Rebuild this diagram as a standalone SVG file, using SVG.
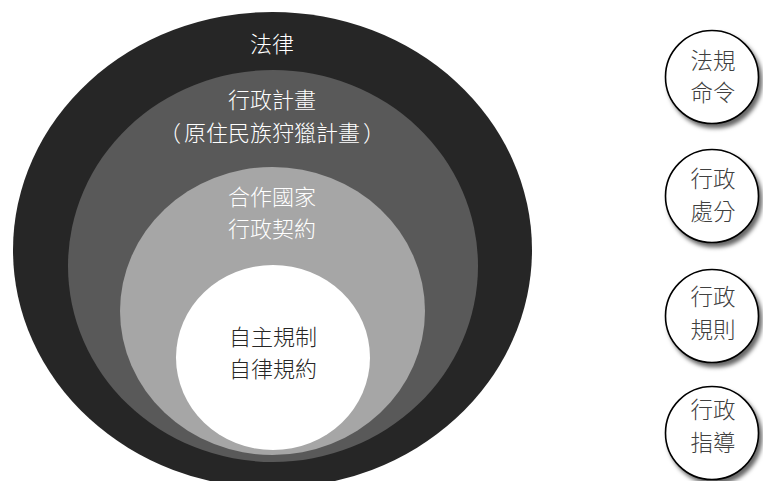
<svg xmlns="http://www.w3.org/2000/svg" width="763" height="481" viewBox="0 0 763 481">
  <style>
    .t { font-family: "Noto Sans CJK TC", "Noto Sans CJK SC", sans-serif; font-size: 22px; text-anchor: middle; font-weight: 300; }
    .w { fill: #ffffff; }
    .d { fill: #262626; }
    .c { fill: #404040; font-size: 22.5px; }
    .circ { fill: #ffffff; stroke: #000000; stroke-width: 1.6; filter: url(#sh); }
  </style>
  <defs>
    <filter id="sh" x="-20%" y="-20%" width="150%" height="150%">
      <feDropShadow dx="3" dy="4" stdDeviation="2" flood-color="#000" flood-opacity="0.6"/>
    </filter>
  </defs>
  <rect width="763" height="481" fill="#ffffff"/>
  <g id="law">
    <ellipse cx="272.5" cy="250" rx="259.5" ry="238" fill="#262626"/>
    <text class="t w" x="272" y="52">法律</text>
  </g>
  <g id="plan">
    <ellipse cx="273" cy="266" rx="205" ry="196" fill="#595959"/>
    <text class="t w" x="272" y="108">行政計畫</text>
    <text class="t w" x="170" y="141">（</text>
    <text class="t w" x="272" y="141">原住民族狩獵計畫</text>
    <text class="t w" x="374" y="141">）</text>
  </g>
  <g id="contract">
    <ellipse cx="272.5" cy="311" rx="152.5" ry="144" fill="#a6a6a6"/>
    <text class="t w" x="272" y="205">合作國家</text>
    <text class="t w" x="272" y="237">行政契約</text>
  </g>
  <g id="self">
    <ellipse cx="273" cy="357.5" rx="97" ry="92.5" fill="#ffffff"/>
    <text class="t d" x="273" y="345">自主規制</text>
    <text class="t d" x="273" y="377">自律規約</text>
  </g>
  <g id="regulation">
    <circle class="circ" cx="712" cy="77" r="46.5"/>
    <text class="t c" x="713" y="69">法規</text>
    <text class="t c" x="713" y="101">命令</text>
  </g>
  <g id="disposition">
    <circle class="circ" cx="712" cy="196" r="46.5"/>
    <text class="t c" x="713" y="187">行政</text>
    <text class="t c" x="713" y="220">處分</text>
  </g>
  <g id="rule">
    <circle class="circ" cx="712" cy="316" r="46.5"/>
    <text class="t c" x="713" y="305">行政</text>
    <text class="t c" x="713" y="338">規則</text>
  </g>
  <g id="guidance">
    <circle class="circ" cx="712" cy="433" r="46.5"/>
    <text class="t c" x="713" y="418">行政</text>
    <text class="t c" x="713" y="451">指導</text>
  </g>
  <g id="connectors"></g>
</svg>
